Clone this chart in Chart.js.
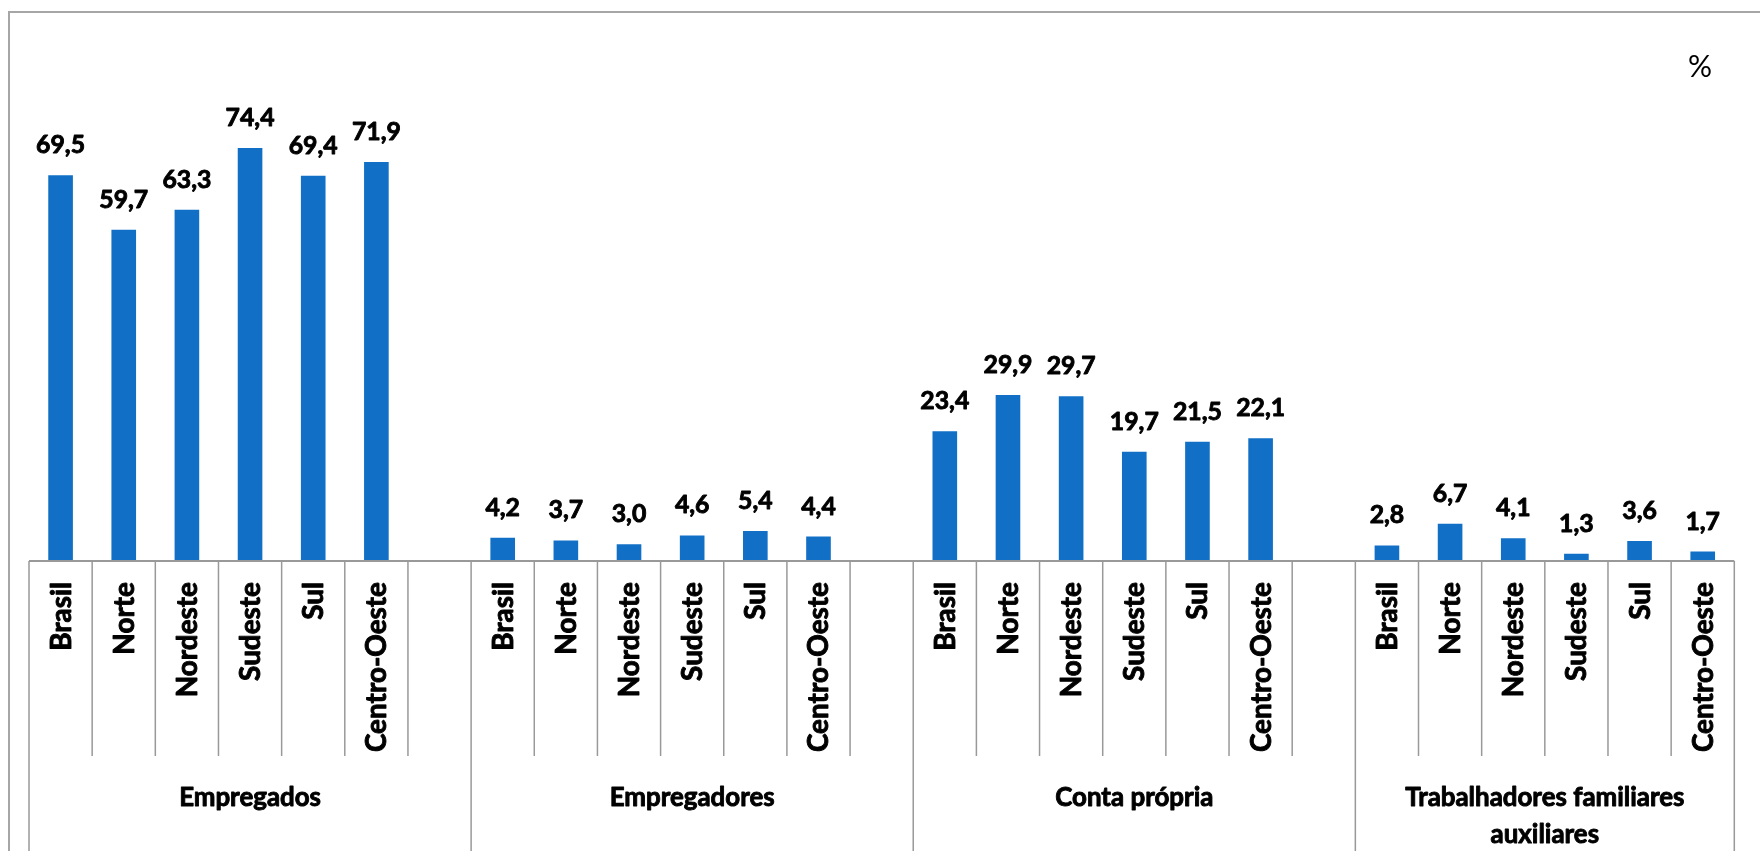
<!DOCTYPE html>
<html>
<head>
<meta charset="utf-8">
<script src="https://cdn.jsdelivr.net/npm/chart.js@4/dist/chart.umd.min.js"></script>
<style>
  html, body { margin: 0; padding: 0; background: #fff; }
  #wrap { width: 1760px; height: 851px; position: relative; }
</style>
</head>
<body>
<div id="wrap"><canvas id="c" width="1760" height="851"></canvas></div>
<script>
// ---- Data ----
const regions = ['Brasil', 'Norte', 'Nordeste', 'Sudeste', 'Sul', 'Centro-Oeste'];
const groupNames = ['Empregados', 'Empregadores', 'Conta própria', ['Trabalhadores familiares', 'auxiliares']];
const empregados = [69.5, 59.7, 63.3, 74.4, 69.4, 71.9];
const empregadores = [4.2, 3.7, 3.0, 4.6, 5.4, 4.4];
const contaPropria = [23.4, 29.9, 29.7, 19.7, 21.5, 22.1];
const familiares = [2.8, 6.7, 4.1, 1.3, 3.6, 1.7];
const unitLabel = '%';

// ---- Build category slots (6 regions + 1 empty gap slot after each group except last) ----
const seriesByGroup = [empregados, empregadores, contaPropria, familiares];
const labels = [];
const values = [];
const groupOfSlot = [];
seriesByGroup.forEach((arr, g) => {
  regions.forEach((r, i) => { labels.push(r); values.push(arr[i]); groupOfSlot.push(g); });
  if (g < seriesByGroup.length - 1) { labels.push(''); values.push(null); groupOfSlot.push(g); }
});

const FONT = "Lato, 'Open Sans', 'DejaVu Sans', sans-serif";
const GRID = '#999999';

function fitSize(ctx, text, targetW, weight) {
  ctx.font = weight + ' 100px ' + FONT;
  const w = ctx.measureText(text).width;
  return Math.round(100 * targetW / w * 10) / 10;
}

// bold text with a slight extra outline to mimic the heavier original face
function heavyText(ctx, text, x, y) {
  ctx.fillText(text, x, y);
  ctx.strokeText(text, x, y);
}

const decorPlugin = {
  id: 'decor',
  afterDraw(chart) {
    const ctx = chart.ctx;
    const xs = chart.scales.x;
    const ys = chart.scales.y;
    const axisY = ys.getPixelForValue(0);
    const n = labels.length;
    const half = (xs.getPixelForValue(1) - xs.getPixelForValue(0)) / 2;
    const H = chart.height;
    ctx.save();

    const valSize = fitSize(ctx, '69,5', 49, 'bold');
    const catSize = fitSize(ctx, 'Centro-Oeste', 170, 'bold');
    const grpSize = fitSize(ctx, 'Empregados', 142, 'bold');

    // outer border (top and left)
    ctx.strokeStyle = '#a6a6a6';
    ctx.lineWidth = 2;
    ctx.beginPath();
    ctx.moveTo(9, H);
    ctx.lineTo(9, 12);
    ctx.lineTo(chart.width, 12);
    ctx.stroke();

    // unit label
    ctx.fillStyle = '#000';
    ctx.font = "30px " + FONT;
    ctx.textAlign = 'center';
    ctx.textBaseline = 'middle';
    ctx.fillText(unitLabel, 1700, 67);

    // axis line
    ctx.strokeStyle = GRID;
    ctx.lineWidth = 2;
    ctx.beginPath();
    ctx.moveTo(xs.getPixelForValue(0) - half, axisY);
    ctx.lineTo(xs.getPixelForValue(n - 1) + half, axisY);
    ctx.stroke();

    // tick lines between slots; group edges run to the bottom
    ctx.lineWidth = 1.5;
    for (let i = 0; i <= n; i++) {
      const x = (i < n ? xs.getPixelForValue(i) : xs.getPixelForValue(n - 1) + 2 * half) - half;
      const isGroupEdge = i === 0 || i === n || groupOfSlot[i] !== groupOfSlot[i - 1];
      ctx.beginPath();
      ctx.moveTo(x, axisY);
      ctx.lineTo(x, isGroupEdge ? H : 756);
      ctx.stroke();
    }

    ctx.fillStyle = '#000';
    ctx.strokeStyle = '#000';
    ctx.lineWidth = 0.9;
    ctx.lineJoin = 'round';

    // category labels (rotated)
    ctx.font = "bold " + catSize + "px " + FONT;
    for (let i = 0; i < n; i++) {
      if (!labels[i]) continue;
      const x = xs.getPixelForValue(i);
      ctx.save();
      ctx.translate(x + 1, axisY + 21);
      ctx.rotate(-Math.PI / 2);
      ctx.textAlign = 'right';
      ctx.textBaseline = 'middle';
      heavyText(ctx, labels[i], 0, 0);
      ctx.restore();
    }

    // group labels
    ctx.font = "bold " + grpSize + "px " + FONT;
    ctx.textAlign = 'center';
    ctx.textBaseline = 'middle';
    groupNames.forEach((name, g) => {
      const idx = groupOfSlot.map((v, i) => v === g ? i : -1).filter(i => i >= 0);
      const x0 = xs.getPixelForValue(idx[0]) - half;
      const x1 = xs.getPixelForValue(idx[idx.length - 1]) + half;
      const cx = (x0 + x1) / 2;
      const lines = Array.isArray(name) ? name : [name];
      lines.forEach((ln, k) => heavyText(ctx, ln, cx, 798 + k * 37));
    });

    // value labels above bars
    ctx.font = "bold " + valSize + "px " + FONT;
    const meta = chart.getDatasetMeta(0);
    ctx.textBaseline = 'alphabetic';
    meta.data.forEach((bar, i) => {
      if (values[i] == null) return;
      heavyText(ctx, values[i].toFixed(1).replace('.', ','), bar.x, bar.y - 22);
    });

    ctx.restore();
  }
};

new Chart(document.getElementById('c'), {
  type: 'bar',
  data: {
    labels: labels,
    datasets: [{
      data: values,
      backgroundColor: '#1170c6',
      borderWidth: 0,
      categoryPercentage: 1.0,
      barPercentage: 0.39
    }]
  },
  options: {
    responsive: false,
    devicePixelRatio: 1,
    animation: false,
    layout: { padding: { left: 29, right: 25.7, top: 61.5, bottom: 290 } },
    plugins: { legend: { display: false }, tooltip: { enabled: false }, title: { display: false } },
    scales: {
      x: { display: false },
      y: { display: false, min: 0, max: 90 }
    }
  },
  plugins: [decorPlugin]
});
</script>
</body>
</html>
